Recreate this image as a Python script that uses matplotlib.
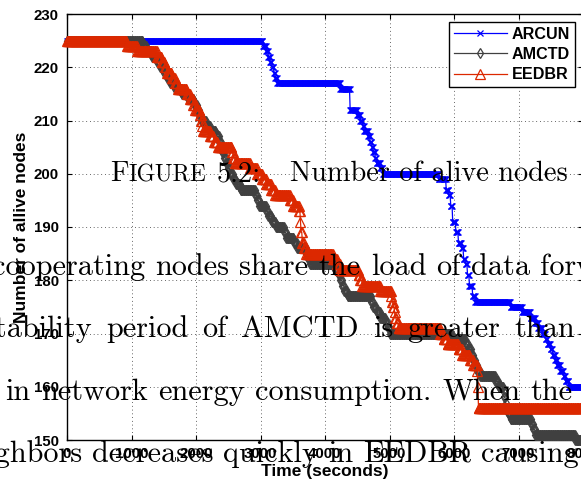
import numpy as np
import matplotlib
matplotlib.use("Agg")
import matplotlib.pyplot as plt

# change points of the alive-node count: (start time in s, nodes alive from then on)
arcun_t = [0, 3040, 3090, 3120, 3150, 3180, 3210, 3230, 3260, 4240, 4390, 4500, 4550,
           4590, 4610, 4670, 4700, 4730, 4750, 4780, 4800, 4860, 4900, 5760, 5880,
           5920, 5950, 5980, 6030, 6070, 6120, 6150, 6180, 6210, 6240, 6290, 6330,
           6880, 7060, 7190, 7260, 7310, 7370, 7420, 7450, 7500, 7530, 7570, 7600,
           7650, 7700, 7730, 7780]
arcun_n = [225, 224, 223, 222, 221, 220, 219, 218, 217, 216, 212, 211, 210,
           209, 208, 207, 206, 205, 204, 203, 202, 201, 200, 199, 197,
           196, 194, 191, 189, 187, 186, 184, 183, 181, 179, 177, 176,
           175, 174, 173, 172, 171, 170, 169, 168, 167, 166, 165, 164,
           163, 162, 161, 160]

amctd_t = [0, 1180, 1240, 1320, 1400, 1440, 1510, 1550, 1600, 1680, 1780, 1880, 1970,
           2020, 2050, 2080, 2160, 2220, 2310, 2360, 2390, 2410, 2440, 2470, 2500,
           2530, 2580, 2620, 2690, 2920, 2950, 2980, 3090, 3120, 3180, 3240, 3370,
           3400, 3520, 3570, 3710, 3740, 3770, 4160, 4210, 4240, 4270, 4300, 4350,
           4720, 4750, 4800, 4860, 4940, 4980, 5010, 5980, 6180, 6220, 6270, 6300,
           6330, 6360, 6410, 6640, 6690, 6770, 6780, 6800, 6810, 6830, 6880, 7200,
           7230, 7260, 7880]
amctd_n = [225, 224, 223, 222, 221, 220, 219, 218, 217, 216, 215, 214, 213,
           212, 211, 210, 209, 208, 207, 206, 205, 204, 203, 202, 201,
           200, 199, 198, 197, 196, 195, 194, 193, 192, 191, 190, 189,
           188, 187, 186, 185, 184, 183, 182, 181, 180, 179, 178, 177,
           176, 175, 174, 173, 172, 171, 170, 169, 168, 167, 166, 165,
           164, 163, 162, 161, 160, 159, 158, 157, 156, 155, 154, 153,
           152, 151, 150]

eedbr_t = [0, 930, 1090, 1400, 1470, 1520, 1550, 1630, 1680, 1720, 1860, 1910, 1960,
           1990, 2060, 2080, 2100, 2110, 2220, 2280, 2340, 2560, 2580, 2610, 2840,
           2950, 3030, 3090, 3170, 3230, 3460, 3510, 3600, 3620, 3630, 3650, 3680,
           3710, 4130, 4190, 4240, 4520, 4550, 4580, 4860, 5030, 5040, 5060, 5080,
           5090, 5110, 5140, 5790, 5840, 5900, 6070, 6130, 6250, 6300, 6360, 6370,
           6380]
eedbr_n = [225, 224, 223, 222, 221, 220, 219, 218, 217, 216, 215, 214, 213,
           212, 211, 210, 209, 208, 207, 206, 205, 204, 203, 202, 201,
           200, 199, 198, 197, 196, 195, 194, 193, 191, 189, 187, 186,
           185, 184, 183, 182, 181, 180, 179, 178, 177, 176, 175, 174,
           173, 172, 171, 170, 169, 168, 167, 166, 165, 164, 163, 160,
           156]

# the simulation logs the count every 10 s
t = np.arange(0, 8001, 10)


def alive(ts, ns):
    idx = np.searchsorted(ts, t, side="right") - 1
    return np.asarray(ns)[idx]


W, H = 581, 484
fig = plt.figure(figsize=(W / 100, H / 100), dpi=100)
ax = fig.add_axes([67 / W, 1 - 440 / H, 516 / W, 426 / H])

red = "#dc2800"
gray = "#404040"
ax.plot(t, alive(arcun_t, arcun_n), color="#0000ff", lw=0.9, marker="x", ms=5,
        mew=0.9, label="ARCUN", clip_on=False, zorder=3)
ax.plot(t, alive(amctd_t, amctd_n), color=gray, lw=0.9, marker="d", ms=5,
        mfc="none", mew=0.9, label="AMCTD", clip_on=False, zorder=4)
ax.plot(t, alive(eedbr_t, eedbr_n), color=red, lw=0.9, marker="^", ms=6.5,
        mfc="none", mew=0.9, label="EEDBR", clip_on=False, zorder=5)

ax.set_xlim(0, 8000)
ax.set_ylim(150, 230)
ax.set_xticks(np.arange(0, 8001, 1000))
ax.set_yticks(np.arange(150, 231, 10))
ax.grid(True, color="#333333", ls=(0, (1, 3.5)), lw=0.6)
ax.tick_params(direction="in", length=3.5, width=0.8, top=True, right=True,
               labelsize=10.8)
ax.tick_params(axis="x", pad=5)
ax.tick_params(axis="y", pad=6)
for lab in ax.get_xticklabels() + ax.get_yticklabels():
    lab.set_fontfamily("Liberation Sans")
    lab.set_fontweight("bold")
for s in ax.spines.values():
    s.set_linewidth(1.0)

ax.set_xlabel("Time (seconds)", fontfamily="Liberation Sans", fontweight="bold",
              fontsize=12.5, labelpad=2)
ax.set_ylabel("Number of allive nodes", fontfamily="Liberation Sans",
              fontweight="bold", fontsize=12.5, labelpad=3)

leg = ax.legend(loc="upper right", bbox_to_anchor=(575 / W, 1 - 22 / H),
                bbox_transform=fig.transFigure, numpoints=1, fancybox=False,
                framealpha=1, edgecolor="black", handlelength=3.3,
                handletextpad=0.3, labelspacing=0.32, borderpad=0.3,
                borderaxespad=0,
                prop={"family": "Liberation Sans", "weight": "bold", "size": 11.6})
leg.get_frame().set_linewidth(1.0)
leg.set_zorder(10)

# page text printed over the plot
cm = "cmr10"
r = fig.canvas.get_renderer()


def width(txt, size):
    tx = fig.text(0, 0, txt, fontfamily=cm, fontsize=size)
    w = tx.get_window_extent(renderer=r).width
    tx.remove()
    return w


def put(x, y, txt, size):
    tx = fig.text(x / W, 1 - y / H, txt, fontfamily=cm, fontsize=size,
                  color="black", zorder=20)
    return tx.get_window_extent(renderer=r).width


def justify(y, txt, size, x0, x1, i0=0, i1=None):
    # word i0 starts at x0, word i1 ends at x1, even gaps in between
    words = txt.split()
    if i1 is None:
        i1 = len(words) - 1
    ws = [width(w, size) for w in words]
    gap = (x1 - x0 - sum(ws[i0:i1 + 1])) / (i1 - i0)
    x = x0 - sum(ws[:i0]) - gap * i0
    for w, wd in zip(words, ws):
        put(x, y, w, size)
        x += wd + gap


cap = 20.4
body = 21.8
x = 110 + put(110, 181, "F", cap)
put(x, 181, "IGURE", cap * 0.83)
put(217, 181, "5.2:", cap)
put(290, 181, "Number of alive nodes", cap)

justify(275, "cooperating nodes share the load of data forwarding", body,
        155, 530, i0=1, i1=6)
justify(337, "stability period of AMCTD is greater than", body, 106, 575, i0=1)
justify(400, "in network energy consumption. When the", body, 5, 573)
justify(462, "neighbors decreases quickly in EEDBR causing", body, 92, 579, i0=1)

fig.savefig("out.png", dpi=100)
